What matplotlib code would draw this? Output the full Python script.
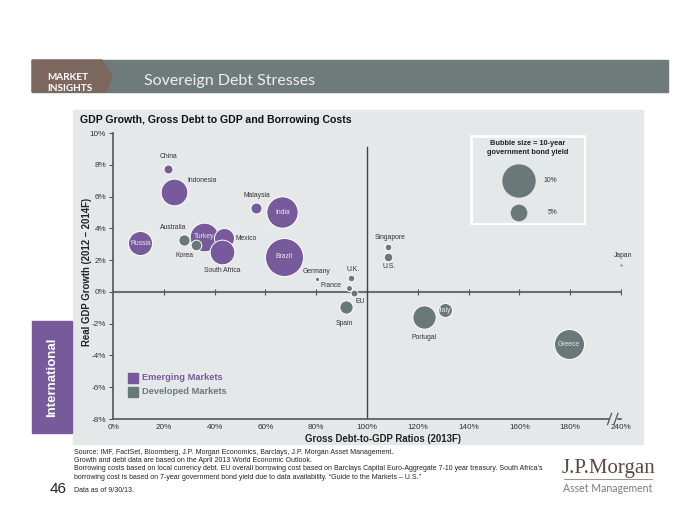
import matplotlib
matplotlib.use("Agg")
import matplotlib.pyplot as plt
from matplotlib.patches import Rectangle, Polygon
from matplotlib.lines import Line2D

plt.rcParams['font.family'] = ['Liberation Sans', 'DejaVu Sans']
HEAD = ['Lato', 'Liberation Sans', 'DejaVu Sans']

# ---------------- data ----------------
countries = ["China", "Indonesia", "Malaysia", "India", "Russia", "Australia", "Turkey",
             "Korea", "Mexico", "South Africa", "Brazil", "Germany", "U.K.", "France",
             "EU", "Spain", "Singapore", "U.S.", "Japan", "Portugal", "Italy", "Greece"]
debt = [21.5, 24.1, 56.2, 66.7, 10.8, 27.8, 35.7, 32.8, 43.7, 43.0, 67.2, 80.4, 93.8,
        92.8, 95.0, 91.6, 108.3, 108.1, 240.0, 122.3, 130.6, 179.4]
growth = [7.75, 6.3, 5.3, 5.0, 3.05, 3.27, 3.45, 2.95, 3.38, 2.5, 2.2, 0.82, 0.9, 0.23,
          -0.06, -0.96, 2.83, 2.22, 1.7, -1.59, -1.15, -3.3]
bond_yield = [2.7, 8.0, 3.3, 9.4, 7.2, 3.4, 8.6, 3.2, 6.0, 7.4, 11.4, 1.3, 2.0, 1.8,
              2.1, 4.0, 2.0, 2.6, 0.6, 7.0, 4.2, 9.0]
group = ["EM", "EM", "EM", "EM", "EM", "DM", "EM", "DM", "EM", "EM", "EM", "DM", "DM",
         "DM", "DM", "DM", "DM", "DM", "DM", "DM", "DM", "DM"]

x_ticks = [0, 20, 40, 60, 80, 100, 120, 140, 160, 180, 200]
x_tick_labels = ["0%", "20%", "40%", "60%", "80%", "100%", "120%", "140%", "160%", "180%", "240%"]
y_ticks = [-8, -6, -4, -2, 0, 2, 4, 6, 8, 10]
legend_yields = [10, 5]

# ---------------- style / layout ----------------
PURPLE = "#775a9b"
GRAY = "#6b7878"
PANEL = "#e4e8e8"
W, H = 700, 525

# label offsets in pixels (dx, dy up) relative to bubble; None => centred inside bubble
label_off = {
    "China": (1, 12), "Indonesia": (28, 11), "Malaysia": (1, 12), "India": None,
    "Russia": None, "Australia": (-10, 12), "Turkey": (0, 1), "Korea": (-12, -10),
    "Mexico": (22, 0), "South Africa": (0, -18), "Brazil": None, "Germany": (-1, 7),
    "U.K.": (2, 8), "France": (-18, 3), "EU": (6, -9), "Spain": (-1, -16),
    "Singapore": (2, 9), "U.S.": (1, -10), "Japan": (2, 9), "Portugal": (0, -20),
    "Italy": None, "Greece": None,
}
inside_white = {"India", "Russia", "Turkey", "Brazil", "Italy", "Greece"}

def fx(px):
    return px / W

def fy(py):
    return 1 - py / H

def disp_x(v):
    # axis break: values beyond 200 are shown at the break end
    return min(v, 200.0)

def r_px(yld):
    return 1.667 * yld

def size_pts2(yld):
    return (2 * r_px(yld) * 0.72) ** 2

fig = plt.figure(figsize=(7, 5.25), dpi=100)
fig.patch.set_facecolor("white")

# header band
fig.add_artist(Rectangle((fx(32), fy(92)), fx(668) - fx(32), fy(60) - fy(92),
                         transform=fig.transFigure, color="#6f7b7b", zorder=0))
fig.add_artist(Polygon([(fx(32), fy(60)), (fx(102), fy(60)), (fx(112), fy(76)),
                        (fx(106), fy(92)), (fx(32), fy(92))],
                       closed=True, transform=fig.transFigure, color="#7b675e", zorder=1))
fig.text(fx(47), fy(77), "MARKET", color="white", fontsize=7.2, fontweight="bold",
         family=HEAD, va="center", ha="left")
fig.text(fx(47), fy(88.5), "INSIGHTS", color="white", fontsize=7.2, fontweight="bold",
         family=HEAD, va="center", ha="left")
fig.text(fx(144), fy(80.5), "Sovereign Debt Stresses", color="#eef0f0", fontsize=11.5,
         family=HEAD, fontweight="normal", va="center", ha="left")

# chart panel
fig.add_artist(Rectangle((fx(73), fy(444)), fx(643) - fx(73), fy(110) - fy(444),
                         transform=fig.transFigure, color=PANEL, zorder=0))
fig.text(fx(80), fy(120), "GDP Growth, Gross Debt to GDP and Borrowing Costs",
         fontsize=7.6, fontweight="bold", color="#111111", va="center", ha="left")

# International tab
fig.add_artist(Rectangle((fx(32), fy(433)), fx(72) - fx(32), fy(321) - fy(433),
                         transform=fig.transFigure, color=PURPLE, zorder=0))
fig.text(fx(52), fy(377), "International", rotation=90, color="white", fontsize=9.5,
         fontweight="bold", va="center", ha="center")

# axes
ax = fig.add_axes([fx(113), fy(419), fx(621) - fx(113), fy(133) - fy(419)])
ax.set_facecolor("none")
ax.set_xlim(0, 200)
ax.set_ylim(-8, 10)
for s in ["top", "right"]:
    ax.spines[s].set_visible(False)
for s in ["left", "bottom"]:
    ax.spines[s].set_color("#555555")
    ax.spines[s].set_linewidth(1.2)
ax.set_xticks(x_ticks)
ax.set_xticklabels(x_tick_labels)
ax.set_yticks(y_ticks)
ax.set_yticklabels([f"{v}%" for v in y_ticks])
ax.tick_params(axis="x", length=0, labelsize=5.9, labelcolor="#333333", pad=3.5)
ax.tick_params(axis="y", length=3, direction="out", color="#555555", labelsize=5.9,
               labelcolor="#333333", pad=2)

# zero line and 100% line
ax.axhline(0, color="#6e6e6e", lw=1.5, zorder=1)
ax.plot(x_ticks[1:], [0] * (len(x_ticks) - 1), ls="none", marker="|", ms=4,
        color="#555555", mew=0.8, zorder=1)
ax.plot([100, 100], [-8, 9.1], color="#444444", lw=1.0, zorder=1)

# axis break symbol
ax.add_patch(Rectangle((195.6, -8.1), 2.3, 0.2, color=PANEL, clip_on=False, zorder=4))
for xb in (195.5, 198.0):
    ax.plot([xb - 0.8, xb + 0.8], [-8.35, -7.65], color="#555555", lw=0.9,
            clip_on=False, zorder=5)

# bubbles
for i, c in enumerate(countries):
    col = PURPLE if group[i] == "EM" else GRAY
    xd = disp_x(debt[i])
    ax.scatter([xd], [growth[i]], s=size_pts2(bond_yield[i]), color=col,
               edgecolors="white", linewidths=0.7 if bond_yield[i] > 1 else 0,
               zorder=3, clip_on=False)
    off = label_off[c]
    dx, dy = (0, 0) if off is None else off
    tcol = ("#ece6f3" if group[i] == "EM" else "#e6ebeb") if c in inside_white else "#333333"
    ax.annotate(c, (xd, growth[i]), xytext=(dx * 0.72, dy * 0.72),
                textcoords="offset points", ha="center", va="center",
                fontsize=4.9, color=tcol, zorder=4)

# axis titles
fig.text(fx(383), fy(439), "Gross Debt-to-GDP Ratios (2013F)", fontsize=6.9,
         fontweight="bold", color="#222222", ha="center", va="center")
fig.text(fx(87), fy(272), "Real GDP Growth (2012 \u2013 2014F)", fontsize=6.9,
         fontweight="bold", color="#222222", ha="center", va="center", rotation=90)

# bubble-size legend box
leg_ax = fig.add_axes([fx(470), fy(225), fx(586) - fx(470), fy(135) - fy(225)], zorder=3)
leg_ax.set_xlim(470, 586)
leg_ax.set_ylim(225, 135)
leg_ax.axis("off")
leg_ax.add_patch(Rectangle((471, 136), 114, 88, facecolor=PANEL, edgecolor="white",
                           lw=2, zorder=1))
leg_ax.text(528, 148, "Bubble size = 10-year\ngovernment bond yield", fontsize=5.3,
            fontweight="bold", ha="center", va="center", color="#222222",
            linespacing=1.25, zorder=3)
for yv, py in zip(legend_yields, (181, 213)):
    leg_ax.scatter([519], [py], s=size_pts2(yv), color=GRAY, edgecolors="none", zorder=3)
    leg_ax.text(550 if yv == 10 else 553, py, f"{yv}%", fontsize=4.9, ha="center",
                va="center", color="#333333", zorder=3)

# group legend
for py, lab, col in ((378, "Emerging Markets", PURPLE), (392, "Developed Markets", GRAY)):
    fig.add_artist(Rectangle((fx(128), fy(py + 5)), fx(138) - fx(128), fy(py - 5) - fy(py + 5),
                             transform=fig.transFigure, color=col, zorder=3))
    fig.text(fx(142), fy(py), lab, fontsize=6.7, fontweight="bold", color=col,
             ha="left", va="center")

# footer
foot = [
    (452, "Source: IMF, FactSet, Bloomberg, J.P. Morgan Economics, Barclays, J.P. Morgan Asset Management."),
    (460.5, "Growth and debt data are based on the April 2013 World Economic Outlook."),
    (469, "Borrowing costs based on local currency debt. EU overall borrowing cost based on Barclays Capital Euro-Aggregate 7-10 year treasury. South Africa\u2019s"),
    (477.5, "borrowing cost is based on 7-year government bond yield due to data availability. \u201cGuide to the Markets \u2013 U.S.\u201d"),
    (490, "Data as of 9/30/13."),
]
for py, t in foot:
    fig.text(fx(74), fy(py), t, fontsize=5.05, color="#222222", ha="left", va="center")
fig.text(fx(58), fy(489), "46", fontsize=11, color="#222222", ha="center", va="center")

# logo
fig.text(fx(608), fy(469), "J.P.Morgan", fontsize=15, color="#5b4a42",
         family=["Liberation Serif", "DejaVu Serif"], ha="center", va="center")
fig.add_artist(Line2D([fx(564), fx(652)], [fy(479), fy(479)], transform=fig.transFigure,
                      color="#8a7d76", lw=0.6))
fig.text(fx(608), fy(489), "Asset Management", fontsize=7.6, color="#7d7d7d",
         family=HEAD, ha="center", va="center")

fig.savefig("out.png", dpi=100)
